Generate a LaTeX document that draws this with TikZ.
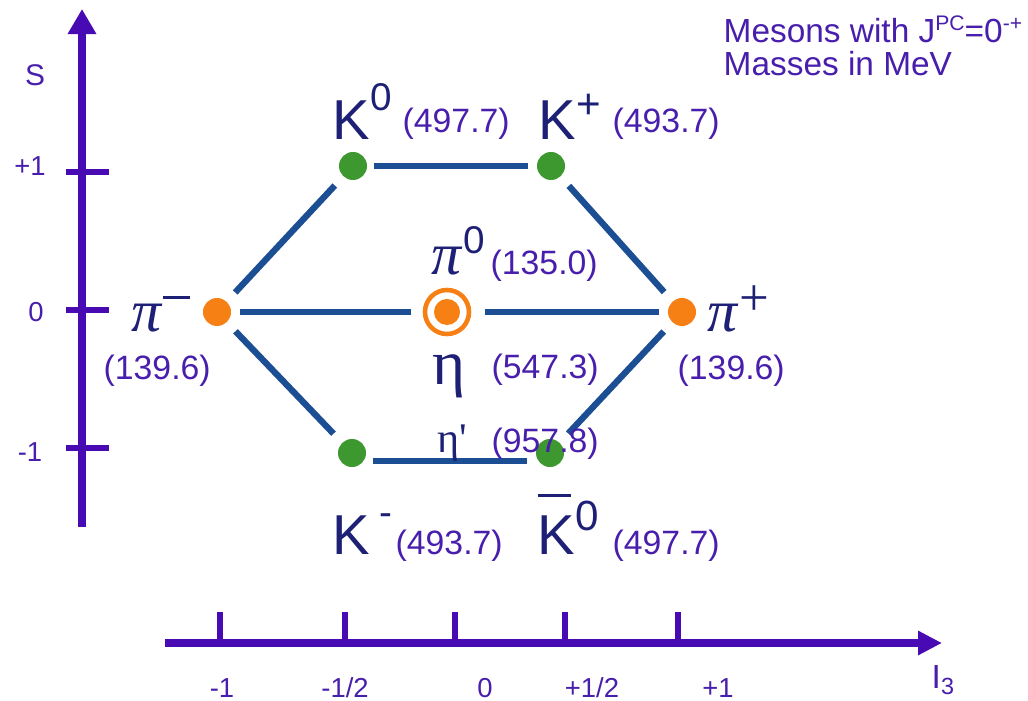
\documentclass[tikz,border=0pt]{standalone}
\usepackage{fontspec}
\setmainfont{Liberation Sans}
\newfontfamily\grk{Liberation Serif}
\usetikzlibrary{arrows.meta}
\definecolor{axisc}{RGB}{72,10,178}
\definecolor{txtc}{RGB}{72,30,172}
\definecolor{navy}{RGB}{30,32,118}
\definecolor{linec}{RGB}{28,78,148}
\definecolor{dotg}{RGB}{62,152,48}
\definecolor{doto}{RGB}{247,128,20}
\newcommand{\spx}[3]{\raisebox{#1}{\fontsize{#2}{#2}\selectfont #3}}

\begin{document}
\begin{tikzpicture}[x=0.01cm,y=-0.01cm,
    gdot/.style={circle,fill=dotg,minimum size=0.28cm,inner sep=0pt},
    odot/.style={circle,fill=doto,minimum size=0.28cm,inner sep=0pt},
    bond/.style={draw=linec,line width=1.8pt,shorten <=0.12cm,shorten >=0.12cm},
    axis/.style={draw=axisc,line width=2pt},
    tick/.style={draw=axisc,line width=1.7pt},
    big/.style={anchor=base west,inner sep=0pt,text=navy,font=\fontsize{16}{16}\selectfont},
    greek/.style={anchor=base west,inner sep=0pt,text=navy,font=\grk\fontsize{17}{17}\selectfont},
    mass/.style={anchor=base west,inner sep=0pt,text=txtc,font=\fontsize{9.6}{10}\selectfont},
    lab/.style={inner sep=0pt,text=txtc,font=\fontsize{7.8}{8}\selectfont}]
    \useasboundingbox (0,0) rectangle (1028,701);

    \coordinate (sbot) at (82,527);
    \coordinate (stop) at (82,9);
    \coordinate (ileft) at (165,643);
    \coordinate (iright) at (942,643);
    \draw[axis,-{Triangle[length=0.25cm,width=0.27cm]}] (sbot) -- (stop);
    \draw[axis,-{Triangle[length=0.24cm,width=0.23cm]}] (ileft) -- (iright);
    \foreach \y in {172,310,448} \draw[tick] (66,\y) -- (109,\y);
    \foreach \x in {220,345,455,565,678} \draw[tick] (\x,612) -- (\x,643);

    \node[lab,font=\fontsize{8.5}{9}\selectfont] (slab) at (35,75) {S};
    \node[lab] (sp1) at (30,166) {+1};
    \node[lab] (s0) at (36,312) {0};
    \node[lab] (sm1) at (30,452) {-1};
    \node[lab] (im1) at (222,688) {-1};
    \node[lab] (imh) at (345,688) {-1/2};
    \node[lab] (i0) at (485,688) {0};
    \node[lab] (iph) at (592,688) {+1/2};
    \node[lab] (ip1) at (718,688) {+1};
    \node[lab,anchor=base west,font=\fontsize{9.5}{10}\selectfont] (ilab) at (931,689) {I\textsubscript{3}};

    \node[gdot] (K0) at (353,166) {};
    \node[gdot] (Kp) at (551,166) {};
    \node[odot] (pim) at (217,312) {};
    \node[circle,draw=doto,line width=1.3pt,fill=white,minimum size=0.44cm,inner sep=0pt] (pi0) at (447,312) {};
    \node[odot,minimum size=0.26cm] (pi0in) at (pi0) {};
    \node[odot] (pip) at (682,312) {};
    \node[gdot] (Km) at (352,453) {};
    \node[gdot] (Kb) at (550,453) {};

    \draw[bond,shorten <=0.06cm,shorten >=0.08cm] (K0) -- (Kp);
    \draw[bond] (Kp) -- (pip);
    \draw[bond] (pip) -- (Kb);
    \draw[bond,shorten <=0.06cm,shorten >=0.08cm] ([yshift=-0.08cm]Km.east) -- ([yshift=-0.08cm]Kb.west);
    \draw[bond] (Km) -- (pim);
    \draw[bond] (pim) -- (K0);
    \draw[bond,shorten <=0.08cm] (pim) -- (pi0);
    \draw[bond,shorten <=0.14cm,shorten >=0.08cm] (pi0) -- (pip);

    \node[big] (K0l) at (332,140) {K\spx{8.5pt}{11}{0}};
    \node[mass] (K0m) at (402,133) {(497.7)};
    \node[big] (Kpl) at (538,140) {K\spx{6pt}{12}{+}};
    \node[mass] (Kpm) at (612,133) {(493.7)};
    \node[greek] (pi0l) at (431,275) {\textit{π}\spx{6.2pt}{11}{\fontspec{Liberation Sans}0}};
    \node[mass] (pi0m) at (490,275) {(135.0)};
    \node[greek] (piml) at (131,332) {\textit{π}\raisebox{9.5pt}{\rule{7.7pt}{0.8pt}}};
    \node[mass] (pimm) at (103,380) {(139.6)};
    \node[greek] (pipl) at (707,332) {\textit{π}\spx{4.8pt}{15}{+}};
    \node[mass] (pipm) at (677,380) {(139.6)};
    \node[greek,font=\grk\fontsize{18}{18}\selectfont] (etal) at (432,385) {η};
    \node[mass] (etam) at (491,379) {(547.3)};
    \node[greek,font=\grk\fontsize{12}{12}\selectfont] (etapl) at (437,453) {η'};
    \node[mass] (etapm) at (491,453) {(957.8)};
    \node[big] (Kml) at (332,555) {K\,\spx{8.5pt}{11}{-}};
    \node[mass] (Kmm) at (395,555) {(493.7)};
    \node[big] (Kbl) at (537,555) {\makebox[0pt][l]{\raisebox{16.4pt}{\rule{9.6pt}{0.9pt}}}K\spx{7pt}{12}{0}};
    \node[mass] (Kbm) at (612,555) {(497.7)};

    \node[anchor=base west,inner sep=0pt,text=txtc,font=\fontsize{9.5}{10}\selectfont] (title) at (723,43)
        {Mesons with J\spx{3.6pt}{6}{PC}=0\spx{3.6pt}{6}{-+}};
    \node[anchor=base west,inner sep=0pt,text=txtc,font=\fontsize{9.5}{10}\selectfont] (units) at (723,76) {Masses in MeV};
\end{tikzpicture}
\end{document}
